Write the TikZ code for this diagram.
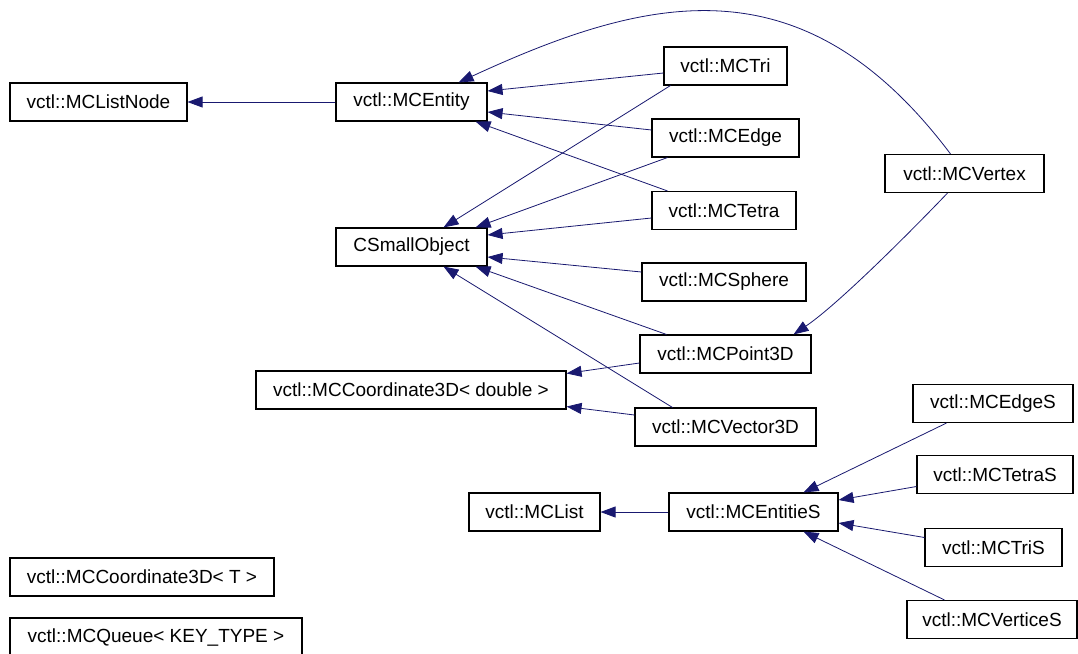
\documentclass[tikz,border=0pt]{standalone}
\usepackage{xcolor}
\usepackage{fontspec}
\setmainfont{Liberation Sans}
\usetikzlibrary{arrows.meta}
\definecolor{edgeblue}{RGB}{25,25,112}
\begin{document}
\begin{tikzpicture}[x=1pt,y=-1pt,every node/.style={draw=black,line width=1.1pt,fill=white,minimum height=38pt,inner sep=0pt,font=\fontsize{19}{22}\selectfont},inherit/.style={draw=edgeblue,line width=0.8pt,-{Triangle[length=15pt,width=11pt]}}]
          \useasboundingbox[fill=white] (0,0) rectangle (1078,653);
          \node[minimum width=177] (listnode) at (98.5,102) {vctl::MCListNode};
          \node[minimum width=151] (entity) at (411.5,102) {vctl::MCEntity};
          \node[minimum width=151] (small) at (411.5,247) {CSmallObject};
          \node[minimum width=123] (tri) at (725.5,66) {vctl::MCTri};
          \node[minimum width=147] (edge) at (725.5,138) {vctl::MCEdge};
          \node[minimum width=144] (tetra) at (724,210.5) {vctl::MCTetra};
          \node[minimum width=164] (sphere) at (724,282) {vctl::MCSphere};
          \node[minimum width=159] (vertex) at (964.5,173.5) {vctl::MCVertex};
          \node[minimum width=171] (point) at (725.5,354) {vctl::MCPoint3D};
          \node[minimum width=310] (dbl) at (411,390) {vctl::MCCoordinate3D< double >};
          \node[minimum width=181] (vector) at (725.5,427) {vctl::MCVector3D};
          \node[minimum width=160] (edges) at (993,403.5) {vctl::MCEdgeS};
          \node[minimum width=156] (tetras) at (995,474.5) {vctl::MCTetraS};
          \node[minimum width=137] (tris) at (993.5,547.5) {vctl::MCTriS};
          \node[minimum width=170] (vertices) at (992,619.5) {vctl::MCVerticeS};
          \node[minimum width=131] (list) at (534.5,512) {vctl::MCList};
          \node[minimum width=169] (entities) at (753.5,512) {vctl::MCEntitieS};
          \node[minimum width=264] (coordt) at (142,577) {vctl::MCCoordinate3D< T >};
          \node[minimum width=292] (queue) at (156,637) {vctl::MCQueue< KEY\_TYPE >};
          \draw[inherit] (entity.west) -- (listnode.east);
          \draw[inherit] ([yshift=-7pt]tri.west) -- ([yshift=11pt]entity.east);
          \draw[inherit] ([yshift=8pt]edge.west) -- ([yshift=-10pt]entity.east);
          \draw[inherit] ([xshift=16pt]tetra.north west) -- ([xshift=-12pt]entity.south east);
          \draw[inherit] ([xshift=-14pt]vertex.north) .. controls (803,-42) and (648,-5) .. ([xshift=-29pt]entity.north east);
          \draw[inherit] ([xshift=7pt]tri.south west) -- ([xshift=32pt]small.north);
          \draw[inherit] ([xshift=16pt]edge.south west) -- ([xshift=-12pt]small.north east);
          \draw[inherit] ([yshift=-7.5pt]tetra.west) -- ([yshift=12pt]small.east);
          \draw[inherit] ([yshift=10pt]sphere.west) -- ([yshift=-10pt]small.east);
          \draw[inherit] ([xshift=27pt]point.north west) -- ([xshift=-12pt]small.south east);
          \draw[inherit] ([xshift=38pt]vector.north west) -- ([xshift=32pt]small.south);
          \draw[inherit] ([yshift=-9pt]point.west) -- ([yshift=-3pt]dbl.north east);
          \draw[inherit] ([yshift=12pt]vector.west) -- ([yshift=3pt]dbl.south east);
          \draw[inherit] ([xshift=-17pt]vertex.south) .. controls (917,225) and (840,303) .. ([xshift=-18pt]point.north east);
          \draw[inherit] (entities.west) -- (list.east);
          \draw[inherit] ([xshift=34pt]edges.south west) -- ([xshift=-35pt]entities.north east);
          \draw[inherit] ([yshift=-12pt]tetras.west) -- ([yshift=12pt]entities.east);
          \draw[inherit] ([yshift=10pt]tris.west) -- ([yshift=-11pt]entities.east);
          \draw[inherit] ([xshift=38pt]vertices.north west) -- ([xshift=-35pt]entities.south east);
    \end{tikzpicture}
\end{document}
